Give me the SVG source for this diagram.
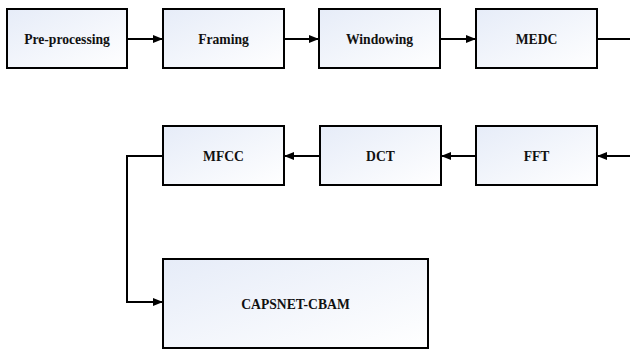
<svg xmlns="http://www.w3.org/2000/svg" width="630" height="350" viewBox="0 0 630 350">
<defs>
<linearGradient id="g" x1="0" y1="0" x2="1" y2="1">
<stop offset="0" stop-color="#e6ecf8"/>
<stop offset="1" stop-color="#ffffff"/>
</linearGradient>
<marker id="a" markerWidth="10" markerHeight="8" refX="10" refY="4" orient="auto" markerUnits="userSpaceOnUse">
<path d="M0,0 L10,4 L0,8 Z" fill="#000"/>
</marker>
</defs>
<style>
.box{fill:url(#g);stroke:#000;stroke-width:2}
.t{font-family:"Liberation Serif","Times New Roman",serif;font-weight:bold;font-size:15.5px;text-anchor:middle;fill:#111}
.c{fill:none;stroke:#000;stroke-width:2}
</style>
<rect width="630" height="350" fill="#fff"/>
<g id="pre"><rect class="box" x="7" y="9" width="120" height="59"/><text class="t" transform="translate(67,44) scale(0.88,1)">Pre-processing</text></g>
<g id="framing"><rect class="box" x="163" y="9" width="121" height="59"/><text class="t" transform="translate(223.5,44) scale(0.88,1)">Framing</text></g>
<g id="windowing"><rect class="box" x="319" y="9" width="121" height="59"/><text class="t" transform="translate(379.5,44) scale(0.88,1)">Windowing</text></g>
<g id="medc"><rect class="box" x="476" y="9" width="121" height="59"/><text class="t" transform="translate(536.5,44) scale(0.88,1)">MEDC</text></g>
<g id="mfcc"><rect class="box" x="163" y="126" width="121" height="59"/><text class="t" transform="translate(223.5,161) scale(0.88,1)">MFCC</text></g>
<g id="dct"><rect class="box" x="320" y="126" width="121" height="59"/><text class="t" transform="translate(380.5,161) scale(0.88,1)">DCT</text></g>
<g id="fft"><rect class="box" x="476" y="126" width="121" height="59"/><text class="t" transform="translate(536.5,161) scale(0.88,1)">FFT</text></g>
<g id="capsnet"><rect class="box" x="163" y="259" width="265" height="89"/><text class="t" transform="translate(295.5,309) scale(0.88,1)">CAPSNET-CBAM</text></g>
<g id="connectors">
<line class="c" x1="127" y1="39" x2="163" y2="39" marker-end="url(#a)"/>
<line class="c" x1="284" y1="39" x2="319" y2="39" marker-end="url(#a)"/>
<line class="c" x1="440" y1="39" x2="476" y2="39" marker-end="url(#a)"/>
<line class="c" x1="597" y1="39" x2="630" y2="39"/>
<line class="c" x1="630" y1="156" x2="597" y2="156" marker-end="url(#a)"/>
<line class="c" x1="476" y1="156" x2="441" y2="156" marker-end="url(#a)"/>
<line class="c" x1="320" y1="156" x2="284" y2="156" marker-end="url(#a)"/>
<polyline class="c" points="163,156 127,156 127,302 163,302" marker-end="url(#a)"/>
</g>
</svg>
